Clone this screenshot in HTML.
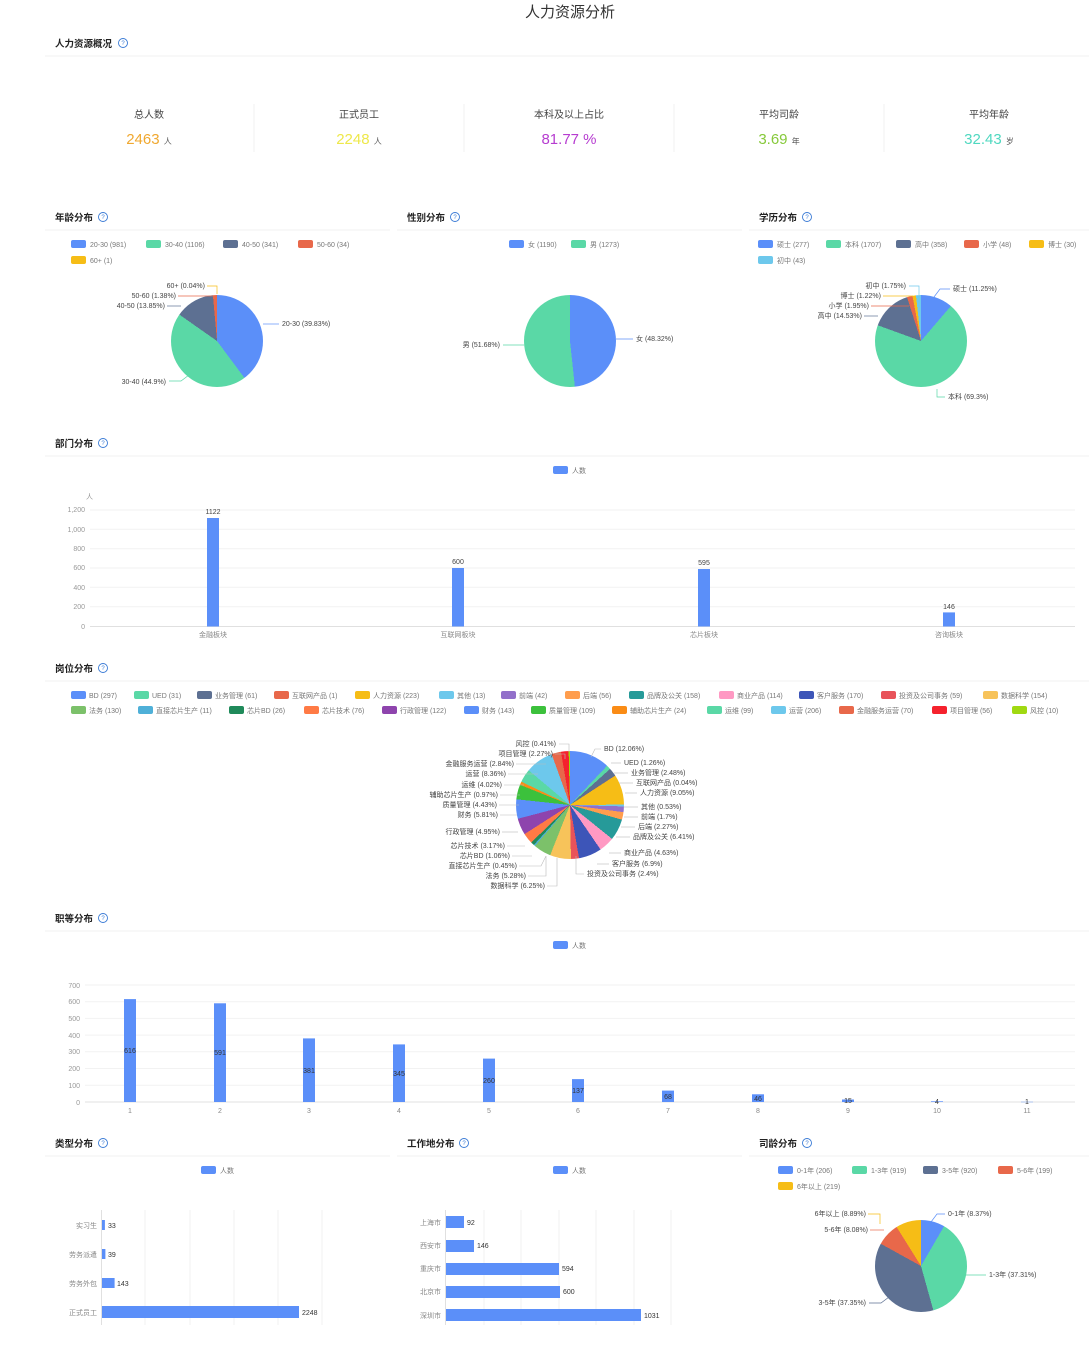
<!DOCTYPE html>
<html><head><meta charset="utf-8"><style>
html,body{margin:0;padding:0;background:#fff;}
body{width:1089px;height:1350px;position:relative;overflow:hidden;font-family:"Liberation Sans","Noto Sans CJK SC",sans-serif;}
.pie{position:absolute;border-radius:50%;}
svg{position:absolute;left:0;top:0;}
svg text{font-family:"Liberation Sans","Noto Sans CJK SC",sans-serif;}
</style></head><body>
<div class="pie" style="left:171px;top:295px;width:92px;height:92px;background:conic-gradient(#5B8FF9 0 39.83%,#5AD8A6 0 84.73%,#5D7092 0 98.58%,#E8684A 0 99.96%,#F6BD16 0 100%)"></div>
<div class="pie" style="left:524px;top:295px;width:92px;height:92px;background:conic-gradient(#5B8FF9 0 48.32%,#5AD8A6 0 100%)"></div>
<div class="pie" style="left:875px;top:295px;width:92px;height:92px;background:conic-gradient(#5B8FF9 0 11.25%,#5AD8A6 0 80.55%,#5D7092 0 95.08%,#E8684A 0 97.03%,#F6BD16 0 98.25%,#6DC8EC 0 100%)"></div>
<div class="pie" style="left:516px;top:751px;width:108px;height:108px;background:conic-gradient(#5B8FF9 0 12.06%,#5AD8A6 0 13.32%,#5D7092 0 15.80%,#E8684A 0 15.84%,#F6BD16 0 24.89%,#6DC8EC 0 25.42%,#9270CA 0 27.12%,#FF9D4D 0 29.39%,#269A99 0 35.80%,#FF99C3 0 40.43%,#3D55B8 0 47.33%,#E8535A 0 49.73%,#F7C35A 0 55.98%,#7CC16A 0 61.26%,#4FB0D8 0 61.71%,#1F8A5A 0 62.77%,#FF7A45 0 65.94%,#8E44AD 0 70.89%,#5B8FF9 0 76.70%,#3CC13C 0 81.13%,#FA8C16 0 82.10%,#5AD8A6 0 86.12%,#6DC8EC 0 94.48%,#E8684A 0 97.32%,#F5222D 0 99.59%,#A0D911 0 100%)"></div>
<div class="pie" style="left:875px;top:1220px;width:92px;height:92px;background:conic-gradient(#5B8FF9 0 8.37%,#5AD8A6 0 45.68%,#5D7092 0 83.03%,#E8684A 0 91.11%,#F6BD16 0 100%)"></div>

<svg width="1089" height="1350" viewBox="0 0 1089 1350">
<g fill="#333">
<text x="570" y="17" font-size="15" text-anchor="middle">人力资源分析</text>
</g>
<!-- section titles -->
<g font-size="9.5" fill="#222" font-weight="bold">
<text x="55" y="47">人力资源概况</text>
<text x="55" y="221">年龄分布</text>
<text x="407" y="221">性别分布</text>
<text x="759" y="221">学历分布</text>
<text x="55" y="447">部门分布</text>
<text x="55" y="672">岗位分布</text>
<text x="55" y="922">职等分布</text>
<text x="55" y="1147">类型分布</text>
<text x="407" y="1147">工作地分布</text>
<text x="759" y="1147">司龄分布</text>
</g>
<g fill="none" stroke="#3a7bd5" stroke-width="0.9">
<circle cx="123" cy="43" r="4.5"/><circle cx="103" cy="217" r="4.5"/><circle cx="455" cy="217" r="4.5"/><circle cx="807" cy="217" r="4.5"/>
<circle cx="103" cy="443" r="4.5"/><circle cx="103" cy="668" r="4.5"/><circle cx="103" cy="918" r="4.5"/>
<circle cx="103" cy="1143" r="4.5"/><circle cx="464" cy="1143" r="4.5"/><circle cx="807" cy="1143" r="4.5"/>
</g>
<g font-size="6" fill="#3a7bd5" text-anchor="middle">
<text x="123" y="45">?</text><text x="103" y="219">?</text><text x="455" y="219">?</text><text x="807" y="219">?</text><text x="103" y="445">?</text><text x="103" y="670">?</text><text x="103" y="920">?</text><text x="103" y="1145">?</text><text x="464" y="1145">?</text><text x="807" y="1145">?</text>
</g>
<g stroke="#f0f0f0" stroke-width="1">
<line x1="45" y1="56" x2="1089" y2="56"/>
<line x1="45" y1="230" x2="390" y2="230"/><line x1="397" y1="230" x2="742" y2="230"/><line x1="749" y1="230" x2="1089" y2="230"/>
<line x1="45" y1="456" x2="1089" y2="456"/><line x1="45" y1="681" x2="1089" y2="681"/><line x1="45" y1="931" x2="1089" y2="931"/>
<line x1="45" y1="1156" x2="390" y2="1156"/><line x1="397" y1="1156" x2="742" y2="1156"/><line x1="749" y1="1156" x2="1089" y2="1156"/>
<line x1="254" y1="104" x2="254" y2="152"/><line x1="464" y1="104" x2="464" y2="152"/><line x1="674" y1="104" x2="674" y2="152"/><line x1="884" y1="104" x2="884" y2="152"/>
</g>
<!-- KPIs -->
<g font-size="10" fill="#444" text-anchor="middle">
<text x="149" y="118">总人数</text><text x="359" y="118">正式员工</text><text x="569" y="118">本科及以上占比</text><text x="779" y="118">平均司龄</text><text x="989" y="118">平均年龄</text>
</g>
<g font-size="15" text-anchor="middle">
<text x="149" y="144" fill="#F0A830">2463 <tspan font-size="8" fill="#555">人</tspan></text>
<text x="359" y="144" fill="#EEE84A">2248 <tspan font-size="8" fill="#555">人</tspan></text>
<text x="569" y="144" fill="#B63CD0">81.77 %</text>
<text x="779" y="144" fill="#86C93A">3.69 <tspan font-size="8" fill="#555">年</tspan></text>
<text x="989" y="144" fill="#4FD8C0">32.43 <tspan font-size="8" fill="#555">岁</tspan></text>
</g>

<!-- legends small -->
<g font-size="7" fill="#777">
<rect x="71" y="240" width="15" height="8" rx="2" fill="#5B8FF9"/><text x="90" y="247">20-30 (981)</text>
<rect x="146" y="240" width="15" height="8" rx="2" fill="#5AD8A6"/><text x="165" y="247">30-40 (1106)</text>
<rect x="223" y="240" width="15" height="8" rx="2" fill="#5D7092"/><text x="242" y="247">40-50 (341)</text>
<rect x="298" y="240" width="15" height="8" rx="2" fill="#E8684A"/><text x="317" y="247">50-60 (34)</text>
<rect x="71" y="256" width="15" height="8" rx="2" fill="#F6BD16"/><text x="90" y="263">60+ (1)</text>

<rect x="509" y="240" width="15" height="8" rx="2" fill="#5B8FF9"/><text x="528" y="247">女 (1190)</text>
<rect x="571" y="240" width="15" height="8" rx="2" fill="#5AD8A6"/><text x="590" y="247">男 (1273)</text>

<rect x="758" y="240" width="15" height="8" rx="2" fill="#5B8FF9"/><text x="777" y="247">硕士 (277)</text>
<rect x="826" y="240" width="15" height="8" rx="2" fill="#5AD8A6"/><text x="845" y="247">本科 (1707)</text>
<rect x="896" y="240" width="15" height="8" rx="2" fill="#5D7092"/><text x="915" y="247">高中 (358)</text>
<rect x="964" y="240" width="15" height="8" rx="2" fill="#E8684A"/><text x="983" y="247">小学 (48)</text>
<rect x="1029" y="240" width="15" height="8" rx="2" fill="#F6BD16"/><text x="1048" y="247">博士 (30)</text>
<rect x="758" y="256" width="15" height="8" rx="2" fill="#6DC8EC"/><text x="777" y="263">初中 (43)</text>

<rect x="553" y="466" width="15" height="8" rx="2" fill="#5B8FF9"/><text x="572" y="473">人数</text>
<rect x="553" y="941" width="15" height="8" rx="2" fill="#5B8FF9"/><text x="572" y="948">人数</text>
<rect x="201" y="1166" width="15" height="8" rx="2" fill="#5B8FF9"/><text x="220" y="1173">人数</text>
<rect x="553" y="1166" width="15" height="8" rx="2" fill="#5B8FF9"/><text x="572" y="1173">人数</text>

<rect x="778" y="1166" width="15" height="8" rx="2" fill="#5B8FF9"/><text x="797" y="1173">0-1年 (206)</text>
<rect x="852" y="1166" width="15" height="8" rx="2" fill="#5AD8A6"/><text x="871" y="1173">1-3年 (919)</text>
<rect x="923" y="1166" width="15" height="8" rx="2" fill="#5D7092"/><text x="942" y="1173">3-5年 (920)</text>
<rect x="998" y="1166" width="15" height="8" rx="2" fill="#E8684A"/><text x="1017" y="1173">5-6年 (199)</text>
<rect x="778" y="1182" width="15" height="8" rx="2" fill="#F6BD16"/><text x="797" y="1189">6年以上 (219)</text>
</g>

<!-- post legend -->
<g font-size="7" fill="#777">
<rect x="71" y="691" width="15" height="8" rx="2" fill="#5B8FF9"/><text x="89" y="698">BD (297)</text>
<rect x="134" y="691" width="15" height="8" rx="2" fill="#5AD8A6"/><text x="152" y="698">UED (31)</text>
<rect x="197" y="691" width="15" height="8" rx="2" fill="#5D7092"/><text x="215" y="698">业务管理 (61)</text>
<rect x="274" y="691" width="15" height="8" rx="2" fill="#E8684A"/><text x="292" y="698">互联网产品 (1)</text>
<rect x="355" y="691" width="15" height="8" rx="2" fill="#F6BD16"/><text x="373" y="698">人力资源 (223)</text>
<rect x="439" y="691" width="15" height="8" rx="2" fill="#6DC8EC"/><text x="457" y="698">其他 (13)</text>
<rect x="501" y="691" width="15" height="8" rx="2" fill="#9270CA"/><text x="519" y="698">前端 (42)</text>
<rect x="565" y="691" width="15" height="8" rx="2" fill="#FF9D4D"/><text x="583" y="698">后端 (56)</text>
<rect x="629" y="691" width="15" height="8" rx="2" fill="#269A99"/><text x="647" y="698">品牌及公关 (158)</text>
<rect x="719" y="691" width="15" height="8" rx="2" fill="#FF99C3"/><text x="737" y="698">商业产品 (114)</text>
<rect x="799" y="691" width="15" height="8" rx="2" fill="#3D55B8"/><text x="817" y="698">客户服务 (170)</text>
<rect x="881" y="691" width="15" height="8" rx="2" fill="#E8535A"/><text x="899" y="698">投资及公司事务 (59)</text>
<rect x="983" y="691" width="15" height="8" rx="2" fill="#F7C35A"/><text x="1001" y="698">数据科学 (154)</text>
<rect x="71" y="706" width="15" height="8" rx="2" fill="#7CC16A"/><text x="89" y="713">法务 (130)</text>
<rect x="138" y="706" width="15" height="8" rx="2" fill="#4FB0D8"/><text x="156" y="713">直接芯片生产 (11)</text>
<rect x="229" y="706" width="15" height="8" rx="2" fill="#1F8A5A"/><text x="247" y="713">芯片BD (26)</text>
<rect x="304" y="706" width="15" height="8" rx="2" fill="#FF7A45"/><text x="322" y="713">芯片技术 (76)</text>
<rect x="382" y="706" width="15" height="8" rx="2" fill="#8E44AD"/><text x="400" y="713">行政管理 (122)</text>
<rect x="464" y="706" width="15" height="8" rx="2" fill="#5B8FF9"/><text x="482" y="713">财务 (143)</text>
<rect x="531" y="706" width="15" height="8" rx="2" fill="#3CC13C"/><text x="549" y="713">质量管理 (109)</text>
<rect x="612" y="706" width="15" height="8" rx="2" fill="#FA8C16"/><text x="630" y="713">辅助芯片生产 (24)</text>
<rect x="707" y="706" width="15" height="8" rx="2" fill="#5AD8A6"/><text x="725" y="713">运维 (99)</text>
<rect x="771" y="706" width="15" height="8" rx="2" fill="#6DC8EC"/><text x="789" y="713">运营 (206)</text>
<rect x="839" y="706" width="15" height="8" rx="2" fill="#E8684A"/><text x="857" y="713">金融服务运营 (70)</text>
<rect x="932" y="706" width="15" height="8" rx="2" fill="#F5222D"/><text x="950" y="713">项目管理 (56)</text>
<rect x="1012" y="706" width="15" height="8" rx="2" fill="#A0D911"/><text x="1030" y="713">风控 (10)</text>
</g>

<!-- pie labels -->
<g font-size="7" fill="#444">
<text x="205" y="288" text-anchor="end">60+ (0.04%)</text>
<text x="176" y="298" text-anchor="end">50-60 (1.38%)</text>
<text x="165" y="308" text-anchor="end">40-50 (13.85%)</text>
<text x="282" y="326">20-30 (39.83%)</text>
<text x="166" y="384" text-anchor="end">30-40 (44.9%)</text>
<text x="500" y="347" text-anchor="end">男 (51.68%)</text>
<text x="636" y="341">女 (48.32%)</text>
<text x="906" y="288" text-anchor="end">初中 (1.75%)</text>
<text x="881" y="298" text-anchor="end">博士 (1.22%)</text>
<text x="869" y="308" text-anchor="end">小学 (1.95%)</text>
<text x="862" y="318" text-anchor="end">高中 (14.53%)</text>
<text x="953" y="291">硕士 (11.25%)</text>
<text x="948" y="399">本科 (69.3%)</text>
<text x="866" y="1216" text-anchor="end">6年以上 (8.89%)</text>
<text x="868" y="1232" text-anchor="end">5-6年 (8.08%)</text>
<text x="948" y="1216">0-1年 (8.37%)</text>
<text x="989" y="1277">1-3年 (37.31%)</text>
<text x="866" y="1305" text-anchor="end">3-5年 (37.35%)</text>
</g>
<g fill="none" stroke-width="0.7">
<path d="M207 286h10v8" stroke="#F6BD16"/><path d="M178 296h36" stroke="#E8684A"/><path d="M167 306h14" stroke="#5D7092"/>
<path d="M279 324h-16" stroke="#5B8FF9"/><path d="M169 381h12l8-6" stroke="#5AD8A6"/>
<path d="M503 345h21" stroke="#5AD8A6"/><path d="M633 339h-17" stroke="#5B8FF9"/>
<path d="M909 286h10v9" stroke="#6DC8EC"/><path d="M883 296h30" stroke="#F6BD16"/><path d="M871 306h38" stroke="#E8684A"/><path d="M864 316h14" stroke="#5D7092"/>
<path d="M950 289h-10l-6 8" stroke="#5B8FF9"/><path d="M945 397h-8v-8" stroke="#5AD8A6"/>
<path d="M868 1214h12v10" stroke="#F6BD16"/><path d="M870 1230h14" stroke="#E8684A"/><path d="M945 1214h-8l-6 8" stroke="#5B8FF9"/>
<path d="M986 1275h-20" stroke="#5AD8A6"/><path d="M869 1303h12l8-6" stroke="#5D7092"/>
</g>
<!-- post pie labels -->
<g font-size="7" fill="#444">
<text x="556" y="746" text-anchor="end">风控 (0.41%)</text>
<text x="553" y="756" text-anchor="end">项目管理 (2.27%)</text>
<text x="514" y="766" text-anchor="end">金融服务运营 (2.84%)</text>
<text x="506" y="776" text-anchor="end">运营 (8.36%)</text>
<text x="502" y="787" text-anchor="end">运维 (4.02%)</text>
<text x="498" y="797" text-anchor="end">辅助芯片生产 (0.97%)</text>
<text x="497" y="807" text-anchor="end">质量管理 (4.43%)</text>
<text x="498" y="817" text-anchor="end">财务 (5.81%)</text>
<text x="500" y="834" text-anchor="end">行政管理 (4.95%)</text>
<text x="505" y="848" text-anchor="end">芯片技术 (3.17%)</text>
<text x="510" y="858" text-anchor="end">芯片BD (1.06%)</text>
<text x="517" y="868" text-anchor="end">直接芯片生产 (0.45%)</text>
<text x="526" y="878" text-anchor="end">法务 (5.28%)</text>
<text x="545" y="888" text-anchor="end">数据科学 (6.25%)</text>
<text x="604" y="751">BD (12.06%)</text>
<text x="624" y="765">UED (1.26%)</text>
<text x="631" y="775">业务管理 (2.48%)</text>
<text x="636" y="785">互联网产品 (0.04%)</text>
<text x="640" y="795">人力资源 (9.05%)</text>
<text x="641" y="809">其他 (0.53%)</text>
<text x="641" y="819">前端 (1.7%)</text>
<text x="638" y="829">后端 (2.27%)</text>
<text x="633" y="839">品牌及公关 (6.41%)</text>
<text x="624" y="855">商业产品 (4.63%)</text>
<text x="612" y="866">客户服务 (6.9%)</text>
<text x="587" y="876">投资及公司事务 (2.4%)</text>
</g>
<g fill="none" stroke="#bbb" stroke-width="0.6">
<path d="M559 744h10v8"/><path d="M555 754h10v5"/><path d="M516 764h30"/><path d="M508 774h30"/><path d="M504 785h20"/><path d="M500 795h20"/><path d="M499 805h20"/><path d="M500 815h17"/><path d="M502 832h16"/><path d="M507 846h18"/><path d="M512 856h20"/><path d="M519 866h22l5-10"/><path d="M528 876h18v-20"/><path d="M547 886h10v-28"/>
<path d="M601 749h-6l-4 8"/><path d="M621 763h-10"/><path d="M628 773h-14"/><path d="M633 783h-14"/><path d="M637 793h-12"/><path d="M638 807h-14"/><path d="M638 817h-14"/><path d="M635 827h-14"/><path d="M630 837h-14"/><path d="M621 853h-12"/><path d="M609 864h-12"/><path d="M584 874h-8v-18"/>
</g>

<!-- dept bar chart -->
<g stroke="#f2f2f2" stroke-width="1">
<line x1="90" y1="510" x2="1075" y2="510"/><line x1="90" y1="529.3" x2="1075" y2="529.3"/><line x1="90" y1="548.7" x2="1075" y2="548.7"/><line x1="90" y1="568" x2="1075" y2="568"/><line x1="90" y1="587.3" x2="1075" y2="587.3"/><line x1="90" y1="606.7" x2="1075" y2="606.7"/>
</g>
<line x1="90" y1="626.5" x2="1075" y2="626.5" stroke="#e0e0e0"/>
<g font-size="7" fill="#999" text-anchor="end">
<text x="85" y="512">1,200</text><text x="85" y="532">1,000</text><text x="85" y="551">800</text><text x="85" y="570">600</text><text x="85" y="590">400</text><text x="85" y="609">200</text><text x="85" y="629">0</text>
<text x="93" y="499">人</text>
</g>
<g fill="#5B8FF9">
<rect x="207" y="518" width="12" height="108.5"/><rect x="452" y="568" width="12" height="58.5"/><rect x="698" y="569" width="12" height="57.5"/><rect x="943" y="612.4" width="12" height="14.1"/>
</g>
<g font-size="7" fill="#444" text-anchor="middle">
<text x="213" y="514">1122</text><text x="458" y="564">600</text><text x="704" y="565">595</text><text x="949" y="609">146</text>
</g>
<g font-size="7" fill="#888" text-anchor="middle">
<text x="213" y="637">金融板块</text><text x="458" y="637">互联网板块</text><text x="704" y="637">芯片板块</text><text x="949" y="637">咨询板块</text>
</g>

<!-- rank bar chart -->
<g stroke="#f2f2f2" stroke-width="1">
<line x1="85" y1="985" x2="1075" y2="985"/><line x1="85" y1="1001.7" x2="1075" y2="1001.7"/><line x1="85" y1="1018.4" x2="1075" y2="1018.4"/><line x1="85" y1="1035.1" x2="1075" y2="1035.1"/><line x1="85" y1="1051.8" x2="1075" y2="1051.8"/><line x1="85" y1="1068.5" x2="1075" y2="1068.5"/><line x1="85" y1="1085.2" x2="1075" y2="1085.2"/>
</g>
<line x1="85" y1="1102" x2="1075" y2="1102" stroke="#e0e0e0"/>
<g font-size="7" fill="#999" text-anchor="end">
<text x="80" y="988">700</text><text x="80" y="1004">600</text><text x="80" y="1021">500</text><text x="80" y="1038">400</text><text x="80" y="1054">300</text><text x="80" y="1071">200</text><text x="80" y="1088">100</text><text x="80" y="1105">0</text>
</g>
<g fill="#5B8FF9">
<rect x="124" y="999.1" width="12" height="102.9"/>
<rect x="214" y="1003.3" width="12" height="98.7"/>
<rect x="303" y="1038.4" width="12" height="63.6"/>
<rect x="393" y="1044.4" width="12" height="57.6"/>
<rect x="483" y="1058.6" width="12" height="43.4"/>
<rect x="572" y="1079.1" width="12" height="22.9"/>
<rect x="662" y="1090.6" width="12" height="11.4"/>
<rect x="752" y="1094.3" width="12" height="7.7"/>
<rect x="842" y="1099.5" width="12" height="2.5"/>
<rect x="931" y="1101.3" width="12" height="0.7"/>
<rect x="1021" y="1101.8" width="12" height="0.4"/>
</g>
<g font-size="7" fill="#333" text-anchor="middle">
<text x="130" y="1053">616</text><text x="220" y="1055">591</text><text x="309" y="1073">381</text><text x="399" y="1076">345</text><text x="489" y="1083">260</text><text x="578" y="1093">137</text><text x="668" y="1099">68</text><text x="758" y="1101">46</text><text x="848" y="1103">15</text><text x="937" y="1104">4</text><text x="1027" y="1104">1</text>
</g>
<g font-size="7" fill="#888" text-anchor="middle">
<text x="130" y="1113">1</text><text x="220" y="1113">2</text><text x="309" y="1113">3</text><text x="399" y="1113">4</text><text x="489" y="1113">5</text><text x="578" y="1113">6</text><text x="668" y="1113">7</text><text x="758" y="1113">8</text><text x="848" y="1113">9</text><text x="937" y="1113">10</text><text x="1027" y="1113">11</text>
</g>

<!-- type horizontal bars -->
<g stroke="#f2f2f2"><line x1="145" y1="1210" x2="145" y2="1325"/><line x1="190" y1="1210" x2="190" y2="1325"/><line x1="234" y1="1210" x2="234" y2="1325"/><line x1="278" y1="1210" x2="278" y2="1325"/><line x1="322" y1="1210" x2="322" y2="1325"/>
<line x1="484" y1="1210" x2="484" y2="1325"/><line x1="521" y1="1210" x2="521" y2="1325"/><line x1="559" y1="1210" x2="559" y2="1325"/><line x1="596" y1="1210" x2="596" y2="1325"/><line x1="634" y1="1210" x2="634" y2="1325"/><line x1="671" y1="1210" x2="671" y2="1325"/></g>
<line x1="101.5" y1="1210" x2="101.5" y2="1325" stroke="#e0e0e0"/>
<line x1="445.5" y1="1210" x2="445.5" y2="1325" stroke="#e0e0e0"/>
<g fill="#5B8FF9">
<rect x="102" y="1220" width="2.9" height="10"/><rect x="102" y="1249" width="3.4" height="10"/><rect x="102" y="1278" width="12.6" height="10"/><rect x="102" y="1306" width="197" height="12"/>
<rect x="446" y="1216" width="18" height="12"/><rect x="446" y="1240" width="28" height="12"/><rect x="446" y="1263" width="113" height="12"/><rect x="446" y="1286" width="114" height="12"/><rect x="446" y="1309" width="195" height="12"/>
</g>
<g font-size="7" fill="#333">
<text x="108" y="1228">33</text><text x="108" y="1257">39</text><text x="117" y="1286">143</text><text x="302" y="1315">2248</text>
<text x="467" y="1225">92</text><text x="477" y="1248">146</text><text x="562" y="1271">594</text><text x="563" y="1294">600</text><text x="644" y="1318">1031</text>
</g>
<g font-size="7" fill="#888" text-anchor="end">
<text x="97" y="1228">实习生</text><text x="97" y="1257">劳务派遣</text><text x="97" y="1286">劳务外包</text><text x="97" y="1315">正式员工</text>
<text x="441" y="1225">上海市</text><text x="441" y="1248">西安市</text><text x="441" y="1271">重庆市</text><text x="441" y="1294">北京市</text><text x="441" y="1318">深圳市</text>
</g>
</svg>
</body></html>
